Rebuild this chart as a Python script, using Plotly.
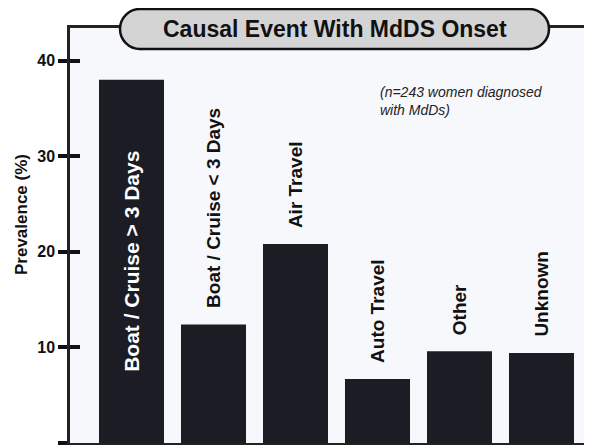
import plotly.graph_objects as go

# ---- data ----
categories = ["Boat / Cruise > 3 Days", "Boat / Cruise < 3 Days", "Air Travel",
              "Auto Travel", "Other", "Unknown"]
prevalence = [38.0, 12.4, 20.8, 6.7, 9.6, 9.4]
label_inside = [True, False, False, False, False, False]
y_ticks = [0, 10, 20, 30, 40]
title_text = "Causal Event With MdDS Onset"
note_text = "(n=243 women diagnosed<br>with MdDs)"
y_title = "Prevalence (%)"

OFF = 8  # page body margin
W, H = 592 - OFF, 445 - OFF
ML, MR, MT, MB = 70 - OFF, 0, 28 - OFF, 2
PW, PH = W - ML - MR, H - MT - MB

FONT = "Liberation Sans, Arial, Helvetica, sans-serif"
BAR = "#1c1c24"


def px(xs):
    # screen pixel x -> paper x
    return (xs - OFF - ML) / PW


def py(ys):
    # screen pixel y -> paper y
    return (OFF + H - MB - ys) / PH


fig = go.Figure()
fig.add_trace(go.Bar(x=categories, y=prevalence, marker=dict(color=BAR, line=dict(width=0)),
                     hoverinfo="x+y"))
# invisible companion trace so the inner-tick axis is drawn
fig.add_trace(go.Scatter(x=categories, y=prevalence, yaxis="y2", mode="markers",
                         marker=dict(opacity=0), hoverinfo="skip"))

annotations = []
for c, v, inside in zip(categories, prevalence, label_inside):
    if inside:
        annotations.append(dict(x=c, y=v / 2, xref="x", yref="y", text=c, showarrow=False,
                                textangle=-90, xanchor="center", yanchor="middle",
                                font=dict(family=FONT, size=21, color="white", weight="bold")))
    else:
        annotations.append(dict(x=c, y=v, xref="x", yref="y", text=c, showarrow=False,
                                textangle=-90, xanchor="center", yanchor="bottom", yshift=14,
                                font=dict(family=FONT, size=19, color="#111111", weight="bold")))

# note
annotations.append(dict(x=px(378), y=py(101), xref="paper", yref="paper",
                        text=note_text, showarrow=False, xanchor="left", yanchor="middle",
                        align="left",
                        font=dict(family=FONT, size=14, color="#222222", style="italic")))

# y axis title
annotations.append(dict(x=px(21), y=py(215), xref="paper", yref="paper", text=y_title,
                        showarrow=False, textangle=-90, xanchor="center", yanchor="middle",
                        font=dict(family=FONT, size=17, color="#111111", weight="bold")))

# title text
annotations.append(dict(x=px(335), y=py(29), xref="paper", yref="paper", text=title_text,
                        showarrow=False, xanchor="center", yanchor="middle",
                        font=dict(family=FONT, size=23, color="#111111", weight="bold")))

# pill behind the title: two end circles + body rect + top/bottom edges
x0, x1, y0, y1 = 120, 549, 9, 49
r = (y1 - y0) / 2
PILL_FILL = "#d4d4d4"
EDGE = dict(color="#111111", width=2.5)
shapes = [
    dict(type="circle", xref="paper", yref="paper", x0=px(x0), x1=px(x0 + 2 * r),
         y0=py(y1), y1=py(y0), fillcolor=PILL_FILL, line=EDGE, layer="above"),
    dict(type="circle", xref="paper", yref="paper", x0=px(x1 - 2 * r), x1=px(x1),
         y0=py(y1), y1=py(y0), fillcolor=PILL_FILL, line=EDGE, layer="above"),
    dict(type="rect", xref="paper", yref="paper", x0=px(x0 + r), x1=px(x1 - r),
         y0=py(y1), y1=py(y0), fillcolor=PILL_FILL, line=dict(width=0), layer="above"),
    dict(type="line", xref="paper", yref="paper", x0=px(x0 + r), x1=px(x1 - r),
         y0=py(y0), y1=py(y0), line=EDGE, layer="above"),
    dict(type="line", xref="paper", yref="paper", x0=px(x0 + r), x1=px(x1 - r),
         y0=py(y1), y1=py(y1), line=EDGE, layer="above"),
]

# x range: first bar centre at screen x 131.5, pitch 82 px
xr = [-(131.5 - 70) / 82, (592 - 131.5) / 82]
yr = [0, 43.4]
fig.update_layout(
    template="none",
    width=W, height=H,
    margin=dict(l=ML, r=MR, t=MT, b=MB, pad=0),
    paper_bgcolor="white", plot_bgcolor="#f7f8fc",
    showlegend=False, bargap=0.207,
    xaxis=dict(range=xr, showticklabels=False, ticks="", showgrid=False,
               zeroline=False, showline=True, mirror=True, linecolor="#222222", linewidth=2.5,
               automargin=False),
    yaxis=dict(range=yr, tickvals=y_ticks, ticks="outside", ticklen=9, tickwidth=4,
               tickcolor="#111111", showgrid=False, zeroline=False, showline=True,
               linecolor="#222222", linewidth=2.5, automargin=False,
               tickfont=dict(family=FONT, size=16, color="#111111", weight="bold")),
    yaxis2=dict(range=yr, overlaying="y", side="left", anchor="x", tickvals=y_ticks,
                ticks="inside", ticklen=10, tickwidth=4, tickcolor="#111111",
                showticklabels=False, showgrid=False, zeroline=False, showline=False,
                automargin=False),
    annotations=annotations,
    shapes=shapes,
)

fig.write_html("out.html")
